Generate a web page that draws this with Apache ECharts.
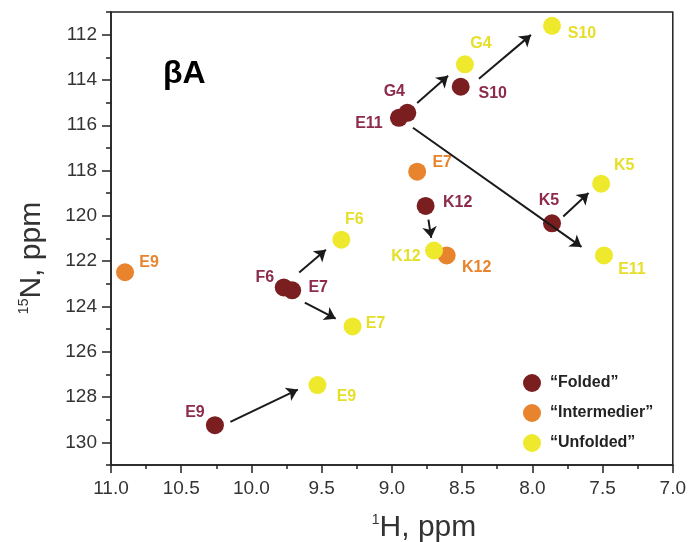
<!DOCTYPE html>
<html>
<head>
  <meta charset="utf-8">
  <title>βA HSQC</title>
  <script src="https://cdn.jsdelivr.net/npm/echarts/dist/echarts.min.js"></script>
  <style>
    html, body { margin: 0; padding: 0; background: #fff; }
    #chart { width: 689px; height: 542px; }
  </style>
</head>
<body>
  <div id="chart"></div>
  <script>
    // tick labels
    var xTicks = [11.0, 10.5, 10.0, 9.5, 9.0, 8.5, 8.0, 7.5, 7.0];
    var yTicks = [112, 114, 116, 118, 120, 122, 124, 126, 128, 130];
    var yMinorTicks = [111, 113, 115, 117, 119, 121, 123, 125, 127, 129, 131];

    // "Folded"
    var foldedRes = ['E9', 'F6', 'E7', 'G4', 'E11', 'S10', 'K12', 'K5'];
    var foldedH = [10.26, 9.77, 9.71, 8.89, 8.95, 8.51, 8.76, 7.86];
    var foldedN = [129.24, 123.16, 123.29, 115.45, 115.67, 114.30, 119.56, 120.33];

    // "Intermedier"
    var interRes = ['E9', 'E7', 'K12'];
    var interH = [10.90, 8.82, 8.61];
    var interN = [122.49, 118.05, 121.75];

    // "Unfolded"
    var unfoldRes = ['E9', 'E7', 'F6', 'K12', 'G4', 'S10', 'K5', 'E11'];
    var unfoldH = [9.53, 9.28, 9.36, 8.70, 8.48, 7.86, 7.51, 7.49];
    var unfoldN = [127.47, 124.88, 121.05, 121.53, 113.31, 111.61, 118.58, 121.75];

    // arrows: start H, start N, end H, end N
    var arrowH0 = [10.15, 9.66, 9.62, 8.82, 8.38, 8.85, 8.74, 7.78];
    var arrowN0 = [129.10, 122.50, 123.83, 115.02, 113.95, 116.11, 120.17, 120.03];
    var arrowH1 = [9.67, 9.47, 9.40, 8.60, 8.01, 7.65, 8.72, 7.60];
    var arrowN1 = [127.67, 121.50, 124.54, 113.82, 112.01, 121.37, 120.97, 118.99];

    // label offsets in px (style only)
    var foldedOff = [[-20, -13], [-19, -10], [26, -3], [-13, -21], [-30, 6], [32, 7], [32, -3], [-3, -23]];
    var interOff = [[24, -10], [25, -9], [30, 12]];
    var unfoldOff = [[29, 12], [23, -3], [13, -20], [-28, 6], [16, -21], [30, 8], [23, -18], [28, 14]];

    var FONT = '"Liberation Sans", Arial, sans-serif';

    function points(res, hs, ns, offs) {
      return res.map(function (r, i) {
        return { name: r, value: [hs[i], ns[i]], label: { offset: offs[i] } };
      });
    }

    function scatter(name, color, labelColor, data) {
      return {
        name: name,
        type: 'scatter',
        symbolSize: 18,
        itemStyle: { color: color, opacity: 1 },
        label: {
          show: true,
          position: 'inside',
          formatter: '{b}',
          color: labelColor,
          fontFamily: FONT,
          fontWeight: 'bold',
          fontSize: 16
        },
        emphasis: { disabled: true },
        data: data,
        z: 3
      };
    }

    var arrows = arrowH0.map(function (h, i) {
      return { coords: [[h, arrowN0[i]], [arrowH1[i], arrowN1[i]]] };
    });

    var myChart = echarts.init(document.getElementById('chart'));

    var option = {
      animation: false,
      grid: {
        left: 111, right: 14, top: 12, bottom: 77,
        show: true, borderColor: '#222', borderWidth: 1.5
      },
      legend: {
        orient: 'vertical',
        left: 518,
        top: 369,
        itemWidth: 18,
        itemHeight: 18,
        itemGap: 12,
        icon: 'circle',
        textStyle: { fontFamily: FONT, fontSize: 16, fontWeight: 'bold', color: '#222', padding: [0, 0, 0, 4] },
        data: ['“Folded”', '“Intermedier”', '“Unfolded”']
      },
      xAxis: {
        type: 'value',
        inverse: true,
        min: 7,
        max: 11,
        interval: 0.5,
        axisLine: { show: true, lineStyle: { color: '#222', width: 1.5 } },
        axisTick: { show: true, length: 8, lineStyle: { color: '#222', width: 1.5 } },
        minorTick: { show: true, splitNumber: 2, length: 4, lineStyle: { color: '#222', width: 1.5 } },
        splitLine: { show: false },
        axisLabel: {
          margin: 14,
          fontFamily: FONT,
          fontSize: 19,
          color: '#333',
          customValues: xTicks,
          formatter: function (v) { return v.toFixed(1); }
        }
      },
      yAxis: [
        {
          type: 'value',
          inverse: true,
          min: 111,
          max: 131,
          position: 'left',
          axisLine: { show: true, lineStyle: { color: '#222', width: 1.5 } },
          axisTick: { show: true, length: 9, customValues: yTicks, lineStyle: { color: '#222', width: 1.5 } },
          splitLine: { show: false },
          axisLabel: {
            margin: 14,
            fontFamily: FONT,
            fontSize: 19,
            color: '#333',
            customValues: yTicks
          }
        },
        {
          // minor ticks only
          type: 'value',
          inverse: true,
          min: 111,
          max: 131,
          position: 'left',
          axisLine: { show: false },
          axisTick: { show: true, length: 5, customValues: yMinorTicks, lineStyle: { color: '#222', width: 1.5 } },
          splitLine: { show: false },
          axisLabel: { show: false }
        }
      ],
      graphic: [
        {
          type: 'text', x: 163, y: 74,
          style: { text: 'βA', fontFamily: FONT, fontWeight: 'bold', fontSize: 32, fill: '#000', verticalAlign: 'middle' }
        },
        {
          type: 'text', x: 424, y: 528,
          style: {
            text: '{s|1}{m|H, ppm}', align: 'center', verticalAlign: 'middle',
            rich: {
              s: { fontFamily: FONT, fontSize: 14, fill: '#333', verticalAlign: 'top', lineHeight: 30 },
              m: { fontFamily: FONT, fontSize: 30, fill: '#333', lineHeight: 30 }
            }
          }
        },
        {
          type: 'text', x: 32, y: 258, rotation: Math.PI / 2,
          style: {
            text: '{s|15}{m|N, ppm}', align: 'center', verticalAlign: 'middle',
            rich: {
              s: { fontFamily: FONT, fontSize: 14, fill: '#333', verticalAlign: 'top', lineHeight: 30 },
              m: { fontFamily: FONT, fontSize: 30, fill: '#333', lineHeight: 30 }
            }
          }
        }
      ],
      series: [
        {
          type: 'lines',
          coordinateSystem: 'cartesian2d',
          symbol: ['none', 'arrow'],
          symbolSize: 11,
          lineStyle: { color: '#1a1a1a', width: 2, opacity: 1 },
          emphasis: { disabled: true },
          data: arrows,
          z: 4
        },
        scatter('“Folded”', '#7a1e20', '#8c2b4b', points(foldedRes, foldedH, foldedN, foldedOff)),
        scatter('“Intermedier”', '#e8832e', '#e8832e', points(interRes, interH, interN, interOff)),
        scatter('“Unfolded”', '#efe92e', '#e6df2a', points(unfoldRes, unfoldH, unfoldN, unfoldOff))
      ]
    };

    myChart.setOption(option);
  </script>
</body>
</html>
